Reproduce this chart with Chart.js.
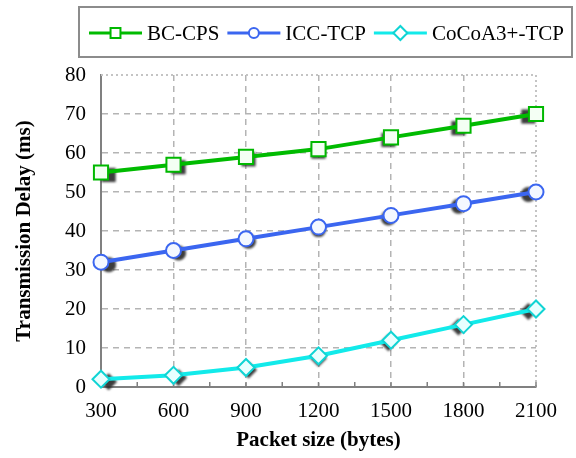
<!DOCTYPE html>
<html>
<head>
<meta charset="utf-8">
<script src="https://cdn.jsdelivr.net/npm/chart.js@4.4.1/dist/chart.umd.min.js"></script>
<style>
  html, body { margin: 0; padding: 0; background: #fff; }
  #wrap { width: 576px; height: 458px; }
</style>
</head>
<body>
<div id="wrap"><canvas id="delayChart" width="576" height="458"></canvas></div>
<script>
const packetSizes = [300, 600, 900, 1200, 1500, 1800, 2100];
const bcCps = [55, 57, 59, 61, 64, 67, 70];
const iccTcp = [32, 35, 38, 41, 44, 47, 50];
const cocoaTcp = [2, 3, 5, 8, 12, 16, 20];
const seriesNames = ['BC-CPS', 'ICC-TCP', 'CoCoA3+-TCP'];

const FONT = "'Liberation Serif', 'Times New Roman', serif";

function toPoints(values) {
    return values.map((v, i) => ({ x: packetSizes[i], y: v }));
}

// ramka, znaczniki osi X i cienie pod markerami
const shadowPlugin = {
    id: 'shadow',
    beforeDatasetsDraw(chart) {
        const ctx = chart.ctx;
        const { left, right, top, bottom } = chart.chartArea;
        // kropkowana ramka u góry i z prawej
        ctx.save();
        ctx.strokeStyle = '#c4c4c4';
        ctx.lineWidth = 2;
        ctx.setLineDash([2, 3]);
        ctx.beginPath();
        ctx.moveTo(left, top);
        ctx.lineTo(right, top);
        ctx.lineTo(right, bottom);
        ctx.stroke();
        ctx.restore();

        // małe znaczniki na osi X
        const xs = chart.scales.x;
        ctx.save();
        ctx.strokeStyle = '#808080';
        ctx.lineWidth = 1.5;
        for (let i = 0; i < packetSizes.length; i++) {
            const vals = [packetSizes[i]];
            if (i < packetSizes.length - 1) vals.push((packetSizes[i] + packetSizes[i + 1]) / 2);
            vals.forEach(v => {
                const px = xs.getPixelForValue(v);
                ctx.beginPath();
                ctx.moveTo(px, bottom);
                ctx.lineTo(px, bottom - 5);
                ctx.stroke();
            });
        }
        ctx.restore();
    },
    beforeDatasetDraw(chart, args) {
        // cień pod markerami danej serii
        const ctx = chart.ctx;
        const { left, right } = chart.chartArea;
        const cx = (left + right) / 2;
        const ds = chart.data.datasets[args.index];
        ctx.save();
        ctx.filter = 'blur(1px)';
        ctx.fillStyle = 'rgba(40,40,40,0.9)';
        args.meta.data.forEach(pt => {
            const dx = (cx - pt.x) * 0.035;
            Chart.helpers.drawPoint(ctx, {
                pointStyle: ds.pointStyle,
                radius: ds.pointRadius,
                rotation: 0,
                borderWidth: 0
            }, pt.x + dx, pt.y + 2.5);
        });
        ctx.restore();
    }
};

// legenda: linia + marker w ramce
const boxLegend = {
    id: 'boxLegend',
    afterDraw(chart) {
        const ctx = chart.ctx;
        ctx.save();
        ctx.strokeStyle = '#8c8c8c';
        ctx.lineWidth = 2;
        ctx.strokeRect(79, 7, 493, 50);
        ctx.font = '21px ' + FONT;
        ctx.textBaseline = 'middle';
        let x = 89;
        const y = 33;
        chart.data.datasets.forEach(ds => {
            ctx.strokeStyle = ds.borderColor;
            ctx.lineWidth = 3;
            ctx.beginPath();
            ctx.moveTo(x, y);
            ctx.lineTo(x + 53, y);
            ctx.stroke();
            ctx.fillStyle = '#ffffff';
            ctx.strokeStyle = ds.pointBorderColor;
            ctx.lineWidth = 2;
            Chart.helpers.drawPoint(ctx, {
                pointStyle: ds.pointStyle,
                radius: ds.pointStyle === 'circle' ? 5 : 7,
                rotation: 0,
                borderWidth: 2
            }, x + 26.5, y);
            ctx.fillStyle = '#000';
            ctx.fillText(ds.label, x + 58, y + 1);
            x += 58 + ctx.measureText(ds.label).width + 8;
        });
        ctx.restore();
    }
};

const ctx = document.getElementById('delayChart').getContext('2d');

const delayChart = new Chart(ctx, {
    type: 'line',
    data: {
        datasets: [
            {
                label: seriesNames[0],
                data: toPoints(bcCps),
                borderColor: '#00bb00',
                backgroundColor: '#00bb00',
                pointStyle: 'rect',
                pointRadius: 10,
                pointBorderWidth: 2,
                pointBorderColor: '#00b800',
                pointBackgroundColor: '#f4fff4',
                borderWidth: 4,
                clip: false
            },
            {
                label: seriesNames[1],
                data: toPoints(iccTcp),
                borderColor: '#3b66f0',
                backgroundColor: '#3b66f0',
                pointStyle: 'circle',
                pointRadius: 7.5,
                pointBorderWidth: 2,
                pointBorderColor: '#3b66f0',
                pointBackgroundColor: '#f4f8ff',
                borderWidth: 4,
                clip: false
            },
            {
                label: seriesNames[2],
                data: toPoints(cocoaTcp),
                borderColor: '#12eaea',
                backgroundColor: '#12eaea',
                pointStyle: 'rectRot',
                pointRadius: 8.5,
                pointBorderWidth: 2,
                pointBorderColor: '#10d4d4',
                pointBackgroundColor: '#e8ffff',
                borderWidth: 4,
                clip: false
            }
        ]
    },
    options: {
        responsive: false,
        animation: false,
        layout: { padding: { left: 0, top: 75, right: 40, bottom: 0 } },
        plugins: {
            legend: { display: false },
            tooltip: { enabled: false }
        },
        scales: {
            x: {
                type: 'linear',
                min: 300,
                max: 2100,
                afterFit(scale) { scale.height = 71; },
                ticks: {
                    stepSize: 300,
                    color: '#000',
                    padding: 12,
                    maxRotation: 0,
                    font: { family: FONT, size: 21 },
                    callback: v => String(v)
                },
                grid: {
                    color: c => (c.tick && (c.tick.value === 2100 || c.tick.value === 300)) ? 'rgba(0,0,0,0)' : '#b4b4b4',
                    lineWidth: 1.5,
                    tickLength: 0
                },
                border: { display: true, color: '#808080', width: 2, dash: [6, 5] },
                title: {
                    display: true,
                    text: 'Packet size (bytes)',
                    color: '#000',
                    font: { family: FONT, size: 21, weight: 'bold' },
                    padding: { top: 0, bottom: 5 }
                }
            },
            y: {
                min: 0,
                max: 80,
                afterFit(scale) { scale.width = 101; },
                ticks: {
                    stepSize: 10,
                    color: '#000',
                    padding: 15,
                    font: { family: FONT, size: 21 }
                },
                grid: {
                    color: c => (c.tick && (c.tick.value === 80 || c.tick.value === 0)) ? 'rgba(0,0,0,0)' : '#b4b4b4',
                    lineWidth: 1.5,
                    tickLength: 0
                },
                border: { display: true, color: '#808080', width: 2, dash: [6, 5] },
                title: {
                    display: true,
                    text: 'Transmission Delay (ms)',
                    color: '#000',
                    font: { family: FONT, size: 21, weight: 'bold' },
                    padding: { top: 12, bottom: 0 }
                }
            }
        }
    },
    plugins: [shadowPlugin, boxLegend]
});
</script>
</body>
</html>
